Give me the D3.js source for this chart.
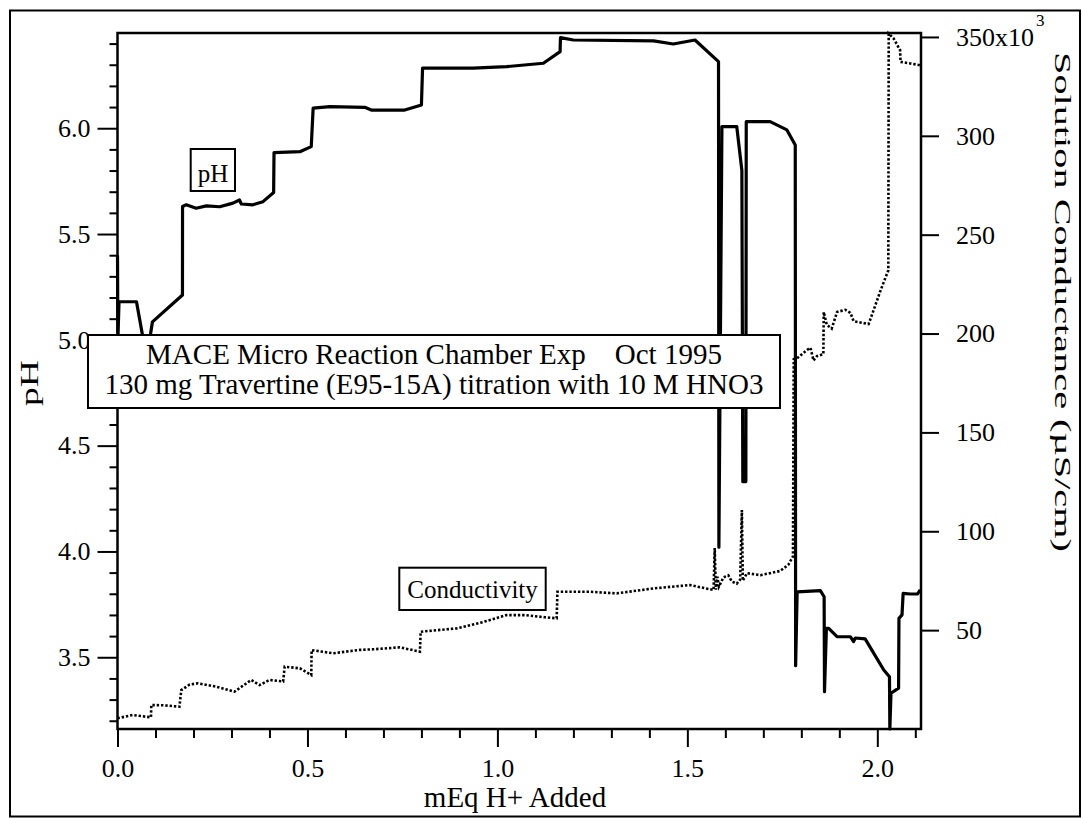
<!DOCTYPE html>
<html><head><meta charset="utf-8">
<script src="https://cdn.jsdelivr.net/npm/d3@7"></script>
<style>
html,body{margin:0;padding:0;background:#fff;}
svg{display:block;font-family:"Liberation Serif","Times New Roman",serif;}
.ax .domain{display:none;}
.ax .tick line{stroke:#000;stroke-width:2;}
.ax .tick text{fill:#000;font-size:26px;font-family:"Liberation Serif","Times New Roman",serif;}
</style></head><body>
<svg id="chart" width="1083" height="818"></svg>
<script>
// ---- data ----
const phX = [0.000,0.001,0.004,0.050,0.066,0.078,0.088,0.092,0.171,0.1712,0.181,0.207,0.234,0.269,0.304,0.321,0.326,0.356,0.383,0.411,0.412,0.480,0.510,0.515,0.559,0.651,0.668,0.756,0.800,0.803,0.936,1.024,1.121,1.165,1.166,1.200,1.411,1.463,1.520,1.582,1.583,1.591,1.630,1.6435,1.646,1.654,1.655,1.718,1.762,1.784,1.785,1.789,1.850,1.860,1.861,1.866,1.872,1.894,1.929,1.9375,1.942,1.968,2.017,2.032,2.033,2.036,2.056,2.057,2.065,2.068,2.087,2.106,2.113];
const phY = [5.40,5.00,5.18,5.18,5.02,4.90,5.04,5.085,5.212,5.630,5.638,5.622,5.633,5.629,5.646,5.661,5.642,5.638,5.653,5.696,5.885,5.889,5.913,6.095,6.102,6.099,6.086,6.086,6.110,6.284,6.284,6.291,6.307,6.362,6.428,6.417,6.413,6.398,6.417,6.315,4.02,6.008,6.008,5.80,4.33,4.33,6.031,6.031,5.992,5.921,3.46,3.809,3.815,3.786,3.337,3.637,3.637,3.597,3.597,3.574,3.591,3.587,3.440,3.408,3.161,3.330,3.354,3.684,3.700,3.802,3.799,3.799,3.818];

const condX = [0.000,0.040,0.088,0.089,0.120,0.163,0.168,0.190,0.212,0.260,0.308,0.352,0.374,0.400,0.436,0.440,0.480,0.510,0.511,0.567,0.638,0.673,0.743,0.796,0.798,0.893,0.955,1.024,1.073,1.125,1.156,1.158,1.244,1.314,1.411,1.507,1.516,1.569,1.572,1.575,1.579,1.583,1.595,1.608,1.617,1.630,1.639,1.6435,1.646,1.657,1.692,1.744,1.766,1.778,1.780,1.788,1.815,1.824,1.832,1.841,1.858,1.859,1.867,1.880,1.894,1.916,1.929,1.9375,1.955,1.977,1.986,2.008,2.029,2.030,2.043,2.060,2.061,2.087,2.113];
const condY = [5.4,7.1,5.9,12.1,12.0,11.3,19.7,22.5,23.1,21.4,18.9,24.8,22.2,24.8,24.0,31.5,30.7,27.3,39.9,38.3,40.0,40.3,41.3,39.1,49.2,50.9,53.7,57.6,57.6,56.5,56.0,69.4,69.4,68.6,71.1,72.8,72.4,70.3,91.5,70.5,77.0,72.0,76.7,77.7,74.6,73.5,75.6,110.7,75.0,78.8,77.8,79.9,83.1,87.3,187.0,187.4,191.7,192.8,186.4,188.6,189.6,210.9,204.4,202.5,210.9,212.0,210.5,206.3,205.6,204.8,209.5,221.5,232.0,351.7,349.2,343.3,337.4,336.6,335.7];

const xTicks = [0, 0.5, 1.0, 1.5, 2.0];
const xTickLabels = ["0.0", "0.5", "1.0", "1.5", "2.0"];
const phTicks = [3.5, 4.0, 4.5, 5.0, 5.5, 6.0];
const phTickLabels = ["3.5", "4.0", "4.5", "5.0", "5.5", "6.0"];
const condTicks = [50, 100, 150, 200, 250, 300, 350];
const condTickLabels = ["50", "100", "150", "200", "250", "300", "350x10"];
const condExponent = "3";

const xTitle = "mEq H+ Added";
const phTitle = "pH";
const condTitle = "Solution Conductance (\u00B5S/cm)";
const titleLines = ["MACE Micro Reaction Chamber Exp    Oct 1995", "130 mg Travertine (E95-15A) titration with 10 M HNO3"];
const phLabel = "pH";
const condLabel = "Conductivity";

// ---- layout ----
const L = 117.5, R = 921, T = 33, B = 729;
const svg = d3.select("#chart");

const x = d3.scaleLinear().domain([0, 2.115]).range([L, R]);
const yPH = d3.scaleLinear().domain([3.161, 6.450]).range([B, T]);
const yC = d3.scaleLinear().domain([0, 352]).range([B, T]);

// outer frame
svg.append("rect").attr("x", 10).attr("y", 10.5).attr("width", 1070).attr("height", 806)
  .attr("fill", "none").attr("stroke", "#000").attr("stroke-width", 2);

// minor tick values
const xMinor = d3.range(0, 22).map(i => i / 10).filter(v => !xTicks.some(t => Math.abs(t - v) < 1e-9));
const phMinor = d3.range(32, 65).map(i => i / 10).filter(v => !phTicks.some(t => Math.abs(t - v) < 1e-9));

// left axis
svg.append("g").attr("class", "ax").attr("transform", `translate(${L},0)`)
  .call(d3.axisLeft(yPH).tickValues(phMinor).tickSize(8).tickFormat(""));
svg.append("g").attr("class", "ax").attr("transform", `translate(${L},0)`)
  .call(d3.axisLeft(yPH).tickValues(phTicks).tickSize(20).tickPadding(7).tickFormat((d, i) => phTickLabels[i]));

// bottom axis
svg.append("g").attr("class", "ax").attr("transform", `translate(0,${B})`)
  .call(d3.axisBottom(x).tickValues(xMinor).tickSize(9).tickFormat(""));
svg.append("g").attr("class", "ax").attr("transform", `translate(0,${B})`)
  .call(d3.axisBottom(x).tickValues(xTicks).tickSize(18).tickPadding(12).tickFormat((d, i) => xTickLabels[i]));

// right axis
const gR = svg.append("g").attr("class", "ax").attr("transform", `translate(${R},0)`)
  .call(d3.axisRight(yC).tickValues(condTicks).tickSize(18).tickPadding(17).tickFormat((d, i) => condTickLabels[i]));
gR.selectAll(".tick text").filter(d => d === 350)
  .append("tspan").attr("dy", -20).attr("dx", 2).attr("font-size", 17).text(condExponent);

// plot box
svg.append("rect").attr("x", L).attr("y", T).attr("width", R - L).attr("height", B - T)
  .attr("fill", "none").attr("stroke", "#000").attr("stroke-width", 2.5);

// series
const phData = phX.map((v, i) => [v, phY[i]]);
const condData = condX.map((v, i) => [v, condY[i]]);

svg.append("path").datum(condData)
  .attr("d", d3.line().x(d => x(d[0])).y(d => yC(d[1])))
  .attr("fill", "none").attr("stroke", "#000").attr("stroke-width", 2.6)
  .attr("stroke-dasharray", "2.4 1.9");

svg.append("path").datum(phData)
  .attr("d", d3.line().x(d => x(d[0])).y(d => yPH(d[1])))
  .attr("fill", "none").attr("stroke", "#000").attr("stroke-width", 3.2)
  .attr("stroke-linejoin", "round");

// axis titles
svg.append("text").attr("transform", "translate(38,383) rotate(-90)")
  .attr("text-anchor", "middle").attr("font-size", 25)
  .attr("textLength", 46).attr("lengthAdjust", "spacingAndGlyphs").text(phTitle);
svg.append("text").attr("x", 515).attr("y", 807).attr("text-anchor", "middle")
  .attr("font-size", 29).text(xTitle);
svg.append("text").attr("transform", "translate(1055,302) rotate(90)")
  .attr("text-anchor", "middle").attr("font-size", 23)
  .attr("textLength", 500).attr("lengthAdjust", "spacingAndGlyphs").text(condTitle);

// label boxes
function box(x0, y0, w, h, lines, fs, baselines, cx) {
  svg.append("rect").attr("x", x0).attr("y", y0).attr("width", w).attr("height", h)
    .attr("fill", "#fff").attr("stroke", "#000").attr("stroke-width", 2);
  lines.forEach((t, i) => {
    svg.append("text").attr("x", cx).attr("y", baselines[i]).attr("text-anchor", "middle")
      .attr("font-size", fs).style("white-space", "pre").attr("xml:space", "preserve").text(t);
  });
}
box(190.7, 149, 44.3, 42, [phLabel], 25, [182], 213);
box(399.3, 567.7, 146.4, 42.3, [condLabel], 25, [598], 472.5);
box(88, 335, 692, 73, titleLines, 29, [363.5, 393.5], 434);
</script>
</body></html>
